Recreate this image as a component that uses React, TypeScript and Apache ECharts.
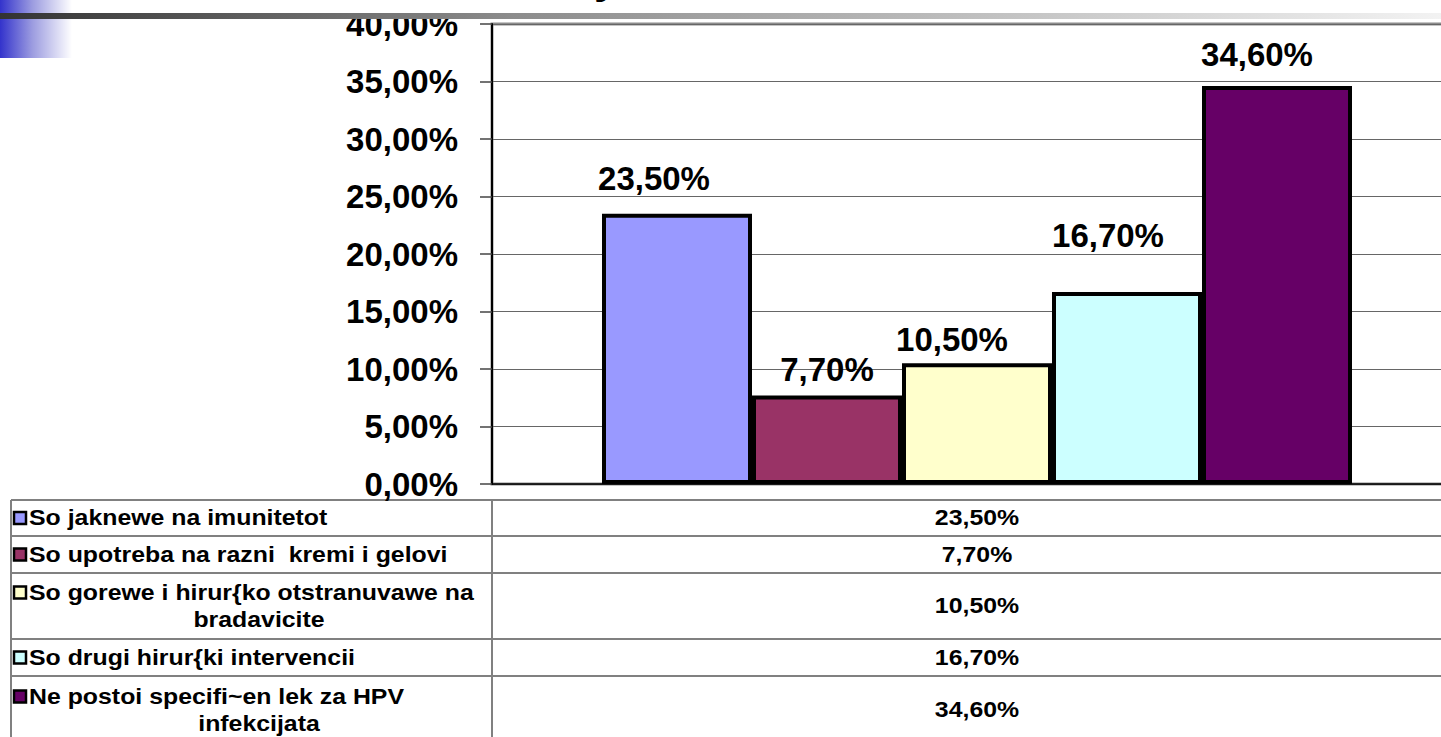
import React, { useEffect, useRef } from "react";
import * as echarts from "echarts";

const categories = [
  "So jaknewe na imunitetot",
  "So upotreba na razni  kremi i gelovi",
  "So gorewe i hirur{ko otstranuvawe na\nbradavicite",
  "So drugi hirur{ki intervencii",
  "Ne postoi specifi~en lek za HPV\ninfekcijata",
];
const values = [23.5, 7.7, 10.5, 16.7, 34.6];
const colors = ["#9999FF", "#993366", "#FFFFCC", "#CCFFFF", "#660066"];
const yMin = 0;
const yMax = 40;
const yInterval = 5;

const FONT = "'Liberation Sans', Arial, sans-serif";
const fmt = (v: number) => v.toFixed(2).replace(".", ",") + "%";

// layout (not data)
const W = 1441;
const H = 737;
const CHART_W = 1462;
const PLOT_LEFT = 492;
const PLOT_TOP = 24;
const PLOT_W = 970;
const PLOT_H = 460;
const TABLE_TOP = 500;
const TABLE_LEFT = 11;
const ROW_H = [36, 37, 66, 37, 68];
const LINE_GAP = 27;
const TXT_SCALE = 1.13;
const LABEL_SHIFT_X = [-23, 0, -25, -19, -20];
const LABEL_DIST = [19, 9, 7, 40, 15];

function buildTable(): any[] {
  const els: any[] = [];
  const lineStyle = { stroke: "#808080", lineWidth: 2 };
  let y = TABLE_TOP;
  const bounds: number[] = [y];
  ROW_H.forEach((h) => {
    y += h;
    bounds.push(y);
  });
  bounds.forEach((by) => {
    els.push({ type: "line", shape: { x1: TABLE_LEFT, y1: by, x2: CHART_W, y2: by }, style: lineStyle, silent: true });
  });
  const bottom = bounds[bounds.length - 1];
  els.push({ type: "line", shape: { x1: TABLE_LEFT, y1: TABLE_TOP, x2: TABLE_LEFT, y2: bottom }, style: lineStyle, silent: true });
  els.push({ type: "line", shape: { x1: PLOT_LEFT, y1: TABLE_TOP, x2: PLOT_LEFT, y2: bottom }, style: lineStyle, silent: true });

  categories.forEach((cat, i) => {
    const top = bounds[i];
    const h = ROW_H[i];
    const lines = cat.split("\n");
    const cy = top + h / 2;
    const firstY = cy - ((lines.length - 1) * LINE_GAP) / 2;
    els.push({
      type: "rect",
      shape: { x: 14, y: firstY - 6, width: 12, height: 12 },
      style: { fill: colors[i], stroke: "#000", lineWidth: 2.5 },
      silent: true,
    });
    lines.forEach((ln, k) => {
      const isFirst = k === 0;
      els.push({
        type: "text",
        x: isFirst ? 29 : 259,
        y: firstY + k * LINE_GAP,
        scaleX: TXT_SCALE,
        style: {
          text: ln,
          font: `bold 22px ${FONT}`,
          fill: "#000",
          textAlign: isFirst ? "left" : "center",
          textVerticalAlign: "middle",
        },
        silent: true,
      });
    });
    els.push({
      type: "text",
      x: PLOT_LEFT + PLOT_W / 2,
      y: cy,
      scaleX: TXT_SCALE,
      style: {
        text: fmt(values[i]),
        font: `bold 22px ${FONT}`,
        fill: "#000",
        textAlign: "center",
        textVerticalAlign: "middle",
      },
      silent: true,
    });
  });
  return els;
}

export default function App() {
  const ref = useRef<HTMLDivElement>(null);
  useEffect(() => {
    if (!ref.current) return;
    const chart = echarts.init(ref.current, null, { renderer: "svg" });
    const graphics: any[] = [
      {
        type: "rect",
        shape: { x: 0, y: 0, width: 72, height: 58 },
        style: {
          fill: new echarts.graphic.LinearGradient(0, 0, 1, 0, [
            { offset: 0, color: "#3333CC" },
            { offset: 0.45, color: "#9c9ce0" },
            { offset: 1, color: "#ffffff" },
          ]),
        },
        silent: true,
        z: 0,
      },
      {
        type: "rect",
        shape: { x: 0, y: 13, width: CHART_W, height: 6 },
        style: {
          fill: new echarts.graphic.LinearGradient(0, 0, 1, 0, [
            { offset: 0, color: "#333333" },
            { offset: 0.35, color: "#8c8c8c" },
            { offset: 1, color: "#f5f5f5" },
          ]),
        },
        silent: true,
        z: 1,
      },
      {
        type: "text",
        x: 594,
        y: -1,
        style: {
          text: "y",
          font: `bold 44px ${FONT}`,
          fill: "#000",
          textAlign: "left",
          textVerticalAlign: "bottom",
        },
        silent: true,
      },
      ...buildTable(),
    ];

    chart.setOption({
      animation: false,
      backgroundColor: "#ffffff",
      grid: {
        left: PLOT_LEFT,
        top: PLOT_TOP,
        width: PLOT_W,
        height: PLOT_H,
        show: true,
        borderColor: "#8c8c8c",
        borderWidth: 3,
        backgroundColor: "transparent",
      },
      xAxis: {
        type: "category",
        data: [""],
        axisLine: { show: true, lineStyle: { color: "#000", width: 1.5 } },
        axisTick: { show: false },
        axisLabel: { show: false },
        splitLine: { show: false },
      },
      yAxis: {
        type: "value",
        min: yMin,
        max: yMax,
        interval: yInterval,
        axisLine: { show: true, lineStyle: { color: "#000", width: 2 } },
        axisTick: { show: true, length: 12, lineStyle: { color: "#444", width: 1.5 } },
        axisLabel: {
          formatter: (v: number) => fmt(v),
          fontSize: 33,
          fontWeight: "bold",
          fontFamily: FONT,
          color: "#000",
          margin: 34,
        },
        splitLine: { show: true, lineStyle: { color: "#666", width: 1 } },
      },
      series: categories.map((c, i) => ({
        type: "bar",
        name: c,
        data: [values[i]],
        barWidth: 150,
        barGap: "0%",
        itemStyle: { color: colors[i], borderColor: "#000", borderWidth: 4 },
        label: {
          show: true,
          position: "top",
          distance: LABEL_DIST[i],
          offset: [LABEL_SHIFT_X[i], 0],
          formatter: (p: any) => fmt(p.value),
          fontSize: 33,
          fontWeight: "bold",
          fontFamily: FONT,
          color: "#000",
        },
      })),
      graphic: graphics,
    });
    return () => chart.dispose();
  }, []);
  return (
    <div style={{ position: "fixed", left: 0, top: 0, width: W, height: H, overflow: "hidden", background: "#fff" }}>
      <div ref={ref} style={{ width: CHART_W, height: H }} />
    </div>
  );
}
